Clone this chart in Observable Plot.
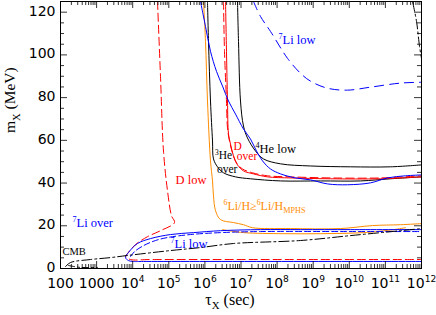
<!DOCTYPE html>
<html><head><meta charset="utf-8">
<script src="https://cdn.jsdelivr.net/npm/d3@7"></script>
<script src="https://cdn.jsdelivr.net/npm/@observablehq/plot@0.6"></script>
<style>body{margin:0;background:#fff}</style>
</head><body><div id="chart"></div>
<script>
// Each point: [log10(tau_X / sec), m_X (MeV)]
const dLow = [[4.687,125],[4.770,90.0],[4.853,55.0],[4.964,36.4],[5.075,24.7],[5.158,21.5],[4.770,17.7],[4.410,14.9],[4.078,11.2],[3.856,7.0],[3.801,5.6],[3.939,4.2],[4.493,4.2],[12,4.2]];
const li7LowUpper = [[7.346,125],[7.540,118.0],[7.817,111.0],[8.288,98.4],[8.648,91.4],[8.925,87.7],[9.396,84.4],[9.950,83.5],[10.587,84.9],[11.418,86.8],[12,87.2]];
const li7Solid = [[5.878,125],[6.017,113.3],[6.155,101.7],[6.321,92.3],[6.488,85.4],[6.654,78.4],[6.848,72.3],[7.069,65.3],[7.263,60.6],[7.429,55.0],[7.596,50.4],[7.817,46.6],[8.094,44.3],[8.510,42.4],[8.925,41.5],[9.396,39.6],[9.950,39.2],[10.587,40.1],[11.058,42.4],[11.557,43.4],[12,43.8]];
const he3Over = [[6.072,125],[6.100,106.3],[6.155,78.4],[6.211,59.7],[6.238,51.3],[6.349,47.6],[6.515,44.8],[6.848,42.9],[7.263,42.0],[8.094,41.0],[9.202,41.0],[10.310,41.0],[11.141,42.0],[12,42.9]];
const he4Low = [[6.903,125],[6.931,106.3],[6.986,78.4],[7.069,66.7],[7.180,61.1],[7.402,55.0],[7.623,51.3],[8.094,49.0],[8.925,48.0],[10.033,47.6],[11.141,47.6],[12,48.5]];
const dOverSolid = [[6.571,125],[6.598,101.7],[6.626,78.4],[6.654,63.0],[6.709,58.3],[6.792,52.7],[6.903,48.5],[7.069,45.7],[7.346,44.3],[7.734,42.9],[8.371,42.4],[9.479,42.0],[10.864,42.0],[12,42.9]];
const dOverDashed = [[6.515,125],[6.543,101.7],[6.598,78.4],[6.626,65.8],[6.681,59.7],[6.765,54.1],[6.875,49.4],[7.042,46.6],[7.319,44.8],[7.734,43.4],[8.371,42.9],[9.479,42.4],[10.864,42.4],[12,43.4]];
const li6Upper = [[5.961,125],[6.017,106.3],[6.072,78.4],[6.155,50.4],[6.211,41.0],[6.238,34.0],[6.294,27.1],[6.432,22.9],[6.792,21.5],[7.069,20.5],[7.319,19.1],[8.371,18.7],[9.756,18.7],[10.643,20.1],[11.418,20.5],[12,21.0]];
const li6Lower = [[6.488,18.2],[7.069,16.8],[8.177,16.3],[9.202,16.3],[10.393,16.8],[11.224,18.2],[11.557,19.1]];
const li7Loop = [[12,18.2],[10.033,18.2],[8.648,18.2],[7.540,18.2],[6.432,17.7],[5.684,16.8],[5.047,15.9],[4.493,14.0],[4.133,11.7],[3.884,7.5],[3.801,5.1],[3.884,3.7],[4.022,3.3],[4.299,3.3],[12,3.3]];
const li7LoopDashed = [[3.939,5.6],[4.050,7.9],[4.299,10.7],[4.632,13.1],[4.964,14.5],[5.601,15.9],[6.432,16.8],[7.540,17.3],[9.756,17.3],[12,17.3]];
const cmb = [[2.139,0.9],[2.277,2.8],[2.831,4.2],[3.385,5.1],[3.856,6.1],[5.047,8.4],[5.878,9.8],[6.792,11.7],[8.648,13.1],[10.033,15.4],[11.418,17.7],[12,18.7]];
const cmbTail = [[2.222,1.4],[2.554,0.5],[3.025,0.5]];
const topRight = [[11.751,125],[11.862,115.7],[11.945,104.0],[12,98.4]];

const xTickExps = [2,3,4,5,6,7,8,9,10,11,12];
const xTickLabels = ["100","1000","10^{4}","10^{5}","10^{6}","10^{7}","10^{8}","10^{9}","10^{10}","10^{11}","10^{12}"];
const yTicks = [0,20,40,60,80,100,120];

const labelTexts = ["^{7}Li low","^{4}He low","D","over","^{3}He","over","D low","^{7}Li over","CMB","^{7}Li low","^{6}Li/H≥^{6}Li/H_{MPHS}"];
const labelTau = [8.039,7.402,6.790,6.885,6.280,6.335,5.186,2.332,2.055,5.047,6.515];
const labelM = [106.8,56.0,57.2,52.4,52.9,46.6,41.3,21.5,7.7,11.7,29.4];
const labelColor = ["blue","black","red","red","black","black","red","blue","black","blue","#ff8c00"];
const labelSize = [12.5,12.5,11.5,11.5,11.5,11.5,12.5,12.5,10.5,12.5,12];

const ORANGE = "#ff8c00";
const curves = [
  {pts: li6Upper, stroke: ORANGE, dash: null},
  {pts: li6Lower, stroke: ORANGE, dash: null},
  {pts: dLow, stroke: "red", dash: "8,4"},
  {pts: li7LowUpper, stroke: "blue", dash: "9,6"},
  {pts: he3Over, stroke: "black", dash: null},
  {pts: he4Low, stroke: "black", dash: null},
  {pts: dOverSolid, stroke: "red", dash: null},
  {pts: dOverDashed, stroke: "red", dash: "8,4"},
  {pts: li7Solid, stroke: "blue", dash: null},
  {pts: li7Loop, stroke: "blue", dash: null},
  {pts: li7LoopDashed, stroke: "blue", dash: "6,3"},
  {pts: cmb, stroke: "black", dash: "10,3,2,3"},
  {pts: cmbTail, stroke: "black", dash: "6,3,2,3"},
  {pts: topRight, stroke: "black", dash: "10,3,2,3"}
];

const W = 436, H = 315, ML = 60, MR = 15, MT = 1, MB = 47;
const pxPerDec = (W - ML - MR) / 10;
const pxPerUnit = (H - MT - MB) / 125;
const MAJ = 7, MIN = 4;

const xTicks = [];
for (let e = 2; e <= 12; e++) {
  xTicks.push({v: 10 ** e, len: MAJ});
  if (e < 12) for (let k = 2; k <= 9; k++) xTicks.push({v: k * 10 ** e, len: MIN});
}
const yTickAll = [];
for (let v = 0; v <= 120; v += 5) yTickAll.push({v, len: v % 20 === 0 ? MAJ : MIN});

const marks = [];
for (const c of curves) {
  marks.push(Plot.line(c.pts, {x: d => 10 ** d[0], y: d => d[1], stroke: c.stroke, strokeWidth: 1,
    strokeDasharray: c.dash, curve: "catmull-rom", clip: true}));
}
marks.push(
  Plot.ruleX(xTicks, {x: "v", y1: 0, y2: d => d.len / pxPerUnit, stroke: "black", strokeWidth: 0.8}),
  Plot.ruleX(xTicks, {x: "v", y1: d => 125 - d.len / pxPerUnit, y2: 125, stroke: "black", strokeWidth: 0.8}),
  Plot.ruleY(yTickAll, {y: "v", x1: 100, x2: d => 100 * 10 ** (d.len / pxPerDec), stroke: "black", strokeWidth: 0.8}),
  Plot.ruleY(yTickAll, {y: "v", x1: d => 1e12 / 10 ** (d.len / pxPerDec), x2: 1e12, stroke: "black", strokeWidth: 0.8}),
  Plot.frame({stroke: "black", strokeWidth: 1}),
  Plot.text(yTicks, {x: 100, y: d => d, dx: -5, dy: -1, textAnchor: "end", text: d => String(d), fontFamily: "DejaVu Sans", fontSize: 14, fill: "black"}),
  Plot.text(xTickExps, {x: d => 10 ** d, y: 0, dy: 15, text: (d, i) => xTickLabels[i], fontFamily: "DejaVu Sans", fontSize: 14, fill: "black"}),
  Plot.text(labelTexts, {x: (d, i) => 10 ** labelTau[i], y: (d, i) => labelM[i], text: d => d, textAnchor: "start",
    fill: (d, i) => labelColor[i], fontSize: (d, i) => labelSize[i], fontFamily: "Liberation Serif"}),
  Plot.text(["m_{X} (MeV)"], {frameAnchor: "left", dx: -50, dy: -2, rotate: -90, fontFamily: "Liberation Serif", fontSize: 15.5, fill: "black"}),
  Plot.text(["τ_{X} (sec)"], {frameAnchor: "bottom", dy: 36, dx: -11, fontFamily: "Liberation Serif", fontSize: 16, fill: "black"})
);

const chart = Plot.plot({
  width: W, height: H,
  marginLeft: ML, marginRight: MR, marginTop: MT, marginBottom: MB,
  x: {type: "log", domain: [100, 1e12], axis: null},
  y: {domain: [0, 125], axis: null},
  style: {background: "white", overflow: "visible", fontFamily: "DejaVu Sans"},
  marks
});
document.getElementById("chart").appendChild(chart);

// render ^{..} superscripts and _{..} subscripts as tspans
const NS = "http://www.w3.org/2000/svg";
chart.querySelectorAll("text").forEach(t => {
  const s = t.textContent;
  if (!/[\^_]\{/.test(s)) return;
  const fs = parseFloat(getComputedStyle(t).fontSize) || 12;
  t.textContent = "";
  const re = /([\^_])\{([^}]*)\}|([^\^_]+)/g;
  let m, shift = 0;
  while ((m = re.exec(s))) {
    const ts = document.createElementNS(NS, "tspan");
    let target = 0, size = null;
    if (m[1] === "^") { target = -0.4 * fs; size = 0.65 * fs; ts.textContent = m[2]; }
    else if (m[1] === "_") { target = 0.28 * fs; size = 0.68 * fs; ts.textContent = m[2]; }
    else ts.textContent = m[3];
    ts.setAttribute("dy", (target - shift).toFixed(2));
    shift = target;
    if (size) ts.setAttribute("font-size", size.toFixed(2));
    t.appendChild(ts);
  }
});
</script></body></html>
